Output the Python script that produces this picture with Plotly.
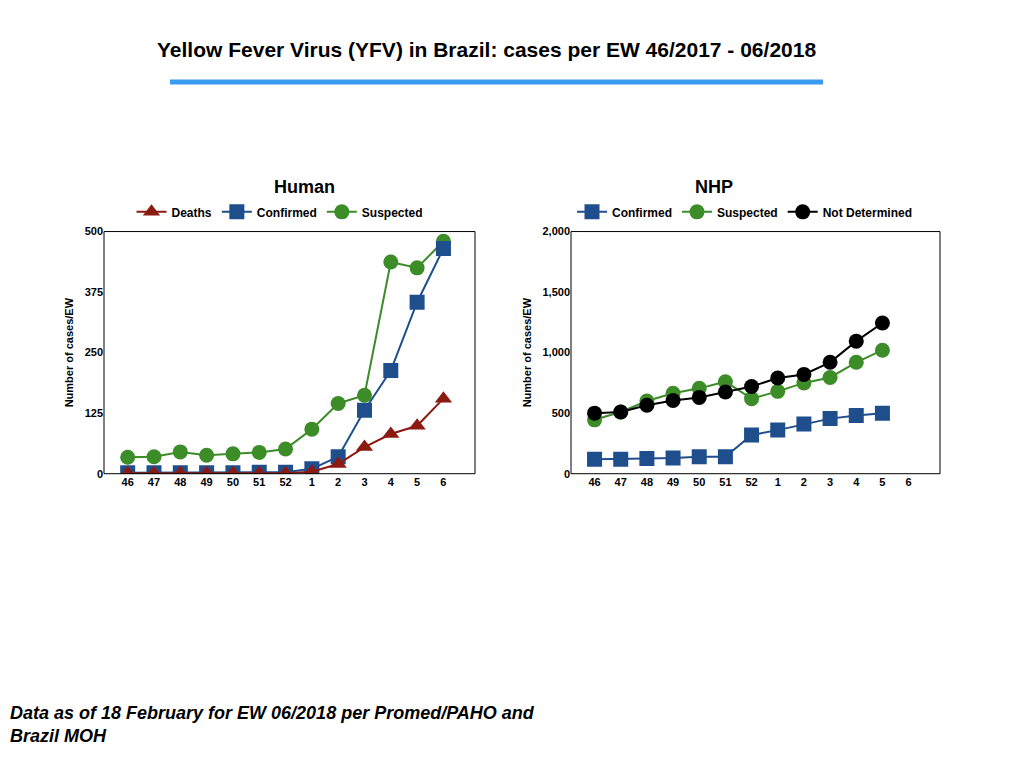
import plotly.graph_objects as go

weeks = ["46","47","48","49","50","51","52","1","2","3","4","5","6"]

human = {
    "Deaths": [1,1,1,1,1,1,1,4,20,55,82,99,155],
    "Confirmed": [2,2,2,2,2,3,3,10,35,131,213,354,465],
    "Suspected": [34,35,45,38,41,44,51,92,145,162,437,425,480],
}
nhp = {
    "Confirmed": [120,120,125,130,140,140,320,360,410,455,480,500],
    "Suspected": [445,510,600,665,705,760,620,680,750,795,920,1020],
    "Not Determined": [500,510,565,605,630,675,720,790,820,920,1095,1245],
}
red, blue, green, black = "#8b1a10", "#1f4e8c", "#3c8c28", "#000000"

# page is shown with a small offset, so correct pixel positions
def px(x):
    return (x - 8) / 1024
def py(y):
    return 1 - (y - 10) / 768

fig = go.Figure()
for name, sym, col in [("Suspected","circle",green),("Confirmed","square",blue),("Deaths","triangle-up",red)]:
    fig.add_trace(go.Scatter(x=weeks, y=human[name], name=name, mode="lines+markers",
                             line=dict(color=col, width=2), marker=dict(symbol=sym, size=15, color=col),
                             xaxis="x", yaxis="y", legend="legend"))
for name, sym, col in [("Confirmed","square",blue),("Suspected","circle",green),("Not Determined","circle",black)]:
    fig.add_trace(go.Scatter(x=weeks[:12], y=nhp[name], name=name, mode="lines+markers",
                             line=dict(color=col, width=2), marker=dict(symbol=sym, size=15, color=col),
                             xaxis="x2", yaxis="y2", legend="legend2"))

tf = dict(size=11, color="black", weight="bold")
ax = dict(type="category", categoryorder="array", categoryarray=weeks, range=[-0.9, 13.2],
          showline=False, ticks="", tickfont=tf)
ay = dict(showgrid=False, zeroline=False, ticks="", tickfont=tf,
          title=dict(text="<b>Number of cases/EW</b>", font=dict(size=11, color="black"), standoff=8))
fig.update_layout(
    width=1024, height=768, margin=dict(l=0, r=0, t=0, b=0),
    plot_bgcolor="white", paper_bgcolor="white",
    font=dict(family="Liberation Sans", color="black"),
    xaxis=dict(ax, domain=[px(104), px(475)], anchor="y"),
    yaxis=dict(ay, domain=[py(477), py(231)], range=[0, 500], tickvals=[0,125,250,375,500], anchor="x"),
    xaxis2=dict(ax, domain=[px(571), px(940)], anchor="y2"),
    yaxis2=dict(ay, domain=[py(477), py(231)], range=[0, 2000], tickvals=[0,500,1000,1500,2000],
                tickformat=",", anchor="x2"),
    legend=dict(orientation="h", x=px(280), y=py(211), xanchor="center", yanchor="middle",
                traceorder="reversed", font=dict(size=12, weight="bold"), bgcolor="rgba(0,0,0,0)"),
    legend2=dict(orientation="h", x=px(745), y=py(211), xanchor="center", yanchor="middle",
                 font=dict(size=12, weight="bold"), bgcolor="rgba(0,0,0,0)"),
    shapes=[
        dict(type="rect", xref="x domain", yref="y domain", x0=0, x1=1, y0=0, y1=1, line=dict(color="black", width=1)),
        dict(type="rect", xref="x2 domain", yref="y2 domain", x0=0, x1=1, y0=0, y1=1, line=dict(color="black", width=1)),
        dict(type="line", xref="paper", yref="paper", x0=px(170), x1=px(823), y0=py(79), y1=py(79),
             line=dict(color="#3a9cf0", width=5)),
    ],
    annotations=[
        dict(text="<b>Yellow Fever Virus (YFV) in Brazil: cases per EW 46/2017 - 06/2018</b>", x=px(486), y=py(46),
             xref="paper", yref="paper", yanchor="middle", showarrow=False, font=dict(size=21)),
        dict(text="<b>Human</b>", x=px(272), y=py(186), xref="paper", yref="paper", yanchor="middle",
             showarrow=False, font=dict(size=18)),
        dict(text="<b>NHP</b>", x=px(735), y=py(186), xref="paper", yref="paper", yanchor="middle",
             showarrow=False, font=dict(size=18)),
        dict(text="<b><i>Data as of 18 February for EW 06/2018 per Promed/PAHO and<br>Brazil MOH</i></b>", x=px(8), y=py(732),
             xref="paper", yref="paper", xanchor="left", yanchor="middle", align="left", showarrow=False, font=dict(size=18)),
    ],
)
fig.write_html("out.html")
